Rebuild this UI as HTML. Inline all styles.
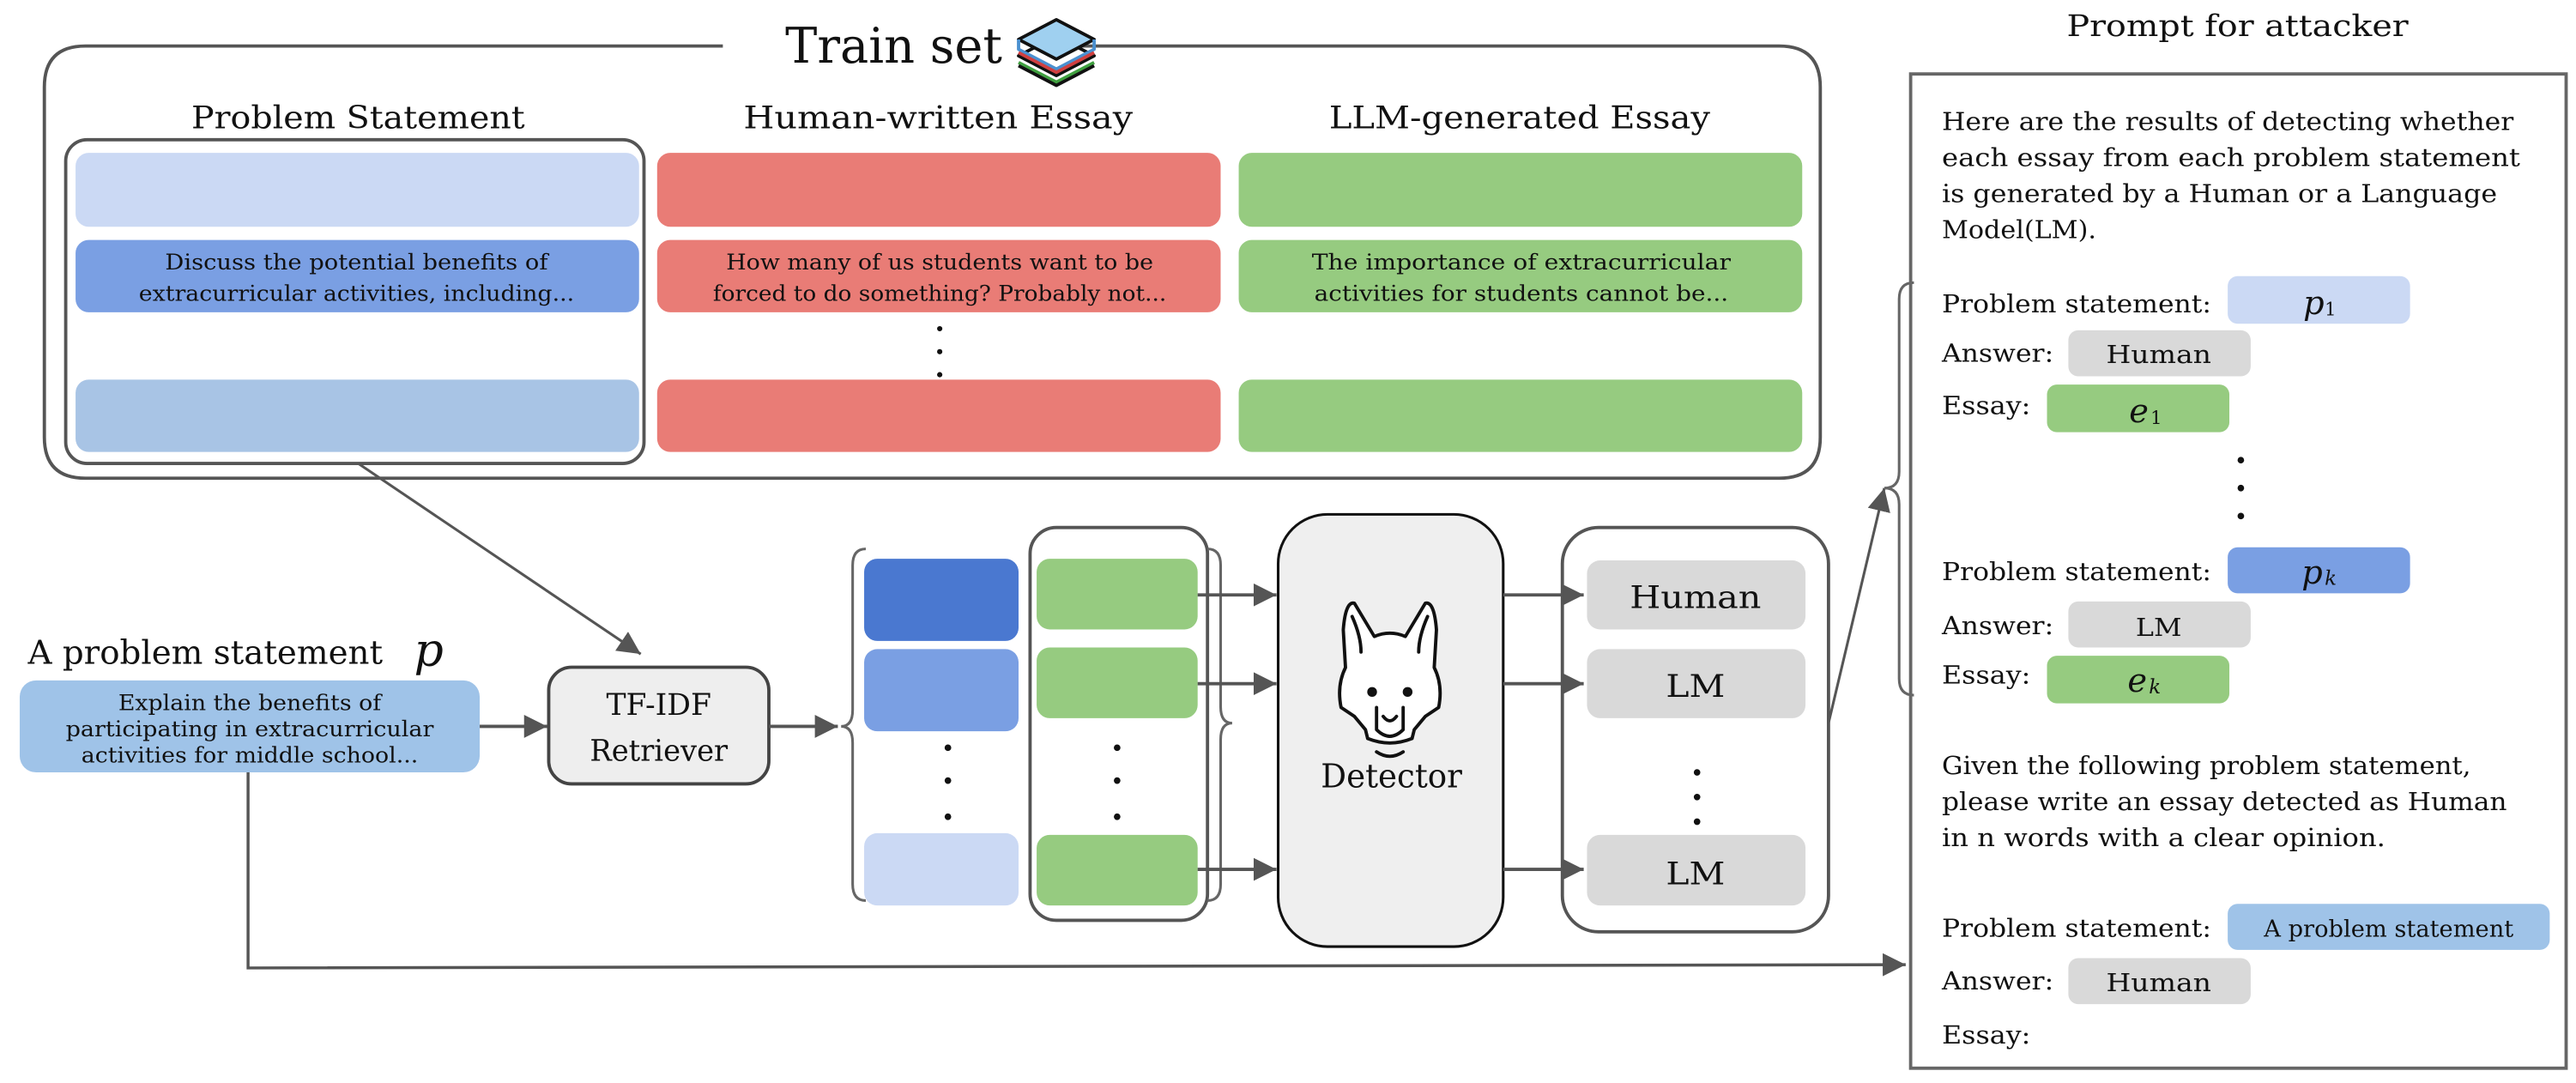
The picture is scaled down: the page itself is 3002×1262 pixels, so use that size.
<!DOCTYPE html>
<html><head><meta charset="utf-8"><style>
html,body{margin:0;padding:0;background:#fff;}
svg{display:block;}
text{font-family:"DejaVu Serif","Liberation Serif",serif;fill:#111;}
</style></head><body>
<svg width="3002" height="1262" viewBox="0 0 1568 659" preserveAspectRatio="none" xmlns="http://www.w3.org/2000/svg">
<defs>
<marker id="a" viewBox="0 0 10 10" refX="10" refY="5" markerWidth="14" markerHeight="14" orient="auto" markerUnits="userSpaceOnUse"><path d="M0,0 L10,5 L0,10 z" fill="#555"/></marker>
</defs>

<path d="M440,28 L52,28 Q27,28 27,53 L27,266 Q27,291 52,291 L1083,291 Q1108,291 1108,266 L1108,53 Q1108,28 1083,28 L655,28" fill="none" stroke="#555" stroke-width="2"/>
<text x="478" y="38" font-size="30" textLength="132" lengthAdjust="spacingAndGlyphs">Train set</text>
<g stroke="#111" stroke-width="2" stroke-linejoin="round">
<path d="M620,34 L643,22 L666,34 L643,46 z" fill="#fff"/>
<path d="M620,24 L643,12 L666,24 L643,36 z" fill="#9fd0f0"/>
<path d="M620,24 L620,30 L643,42 L666,30 L666,24" fill="none" stroke="#4a90d0"/>
<path d="M620,32 L643,44 L666,32" fill="none" stroke="#d04040"/>
<path d="M620,38 L643,50 L666,38" fill="none" stroke="#40a040"/>
<path d="M620,40 L643,52 L666,40" fill="none"/>
</g>

<text x="218" y="78" font-size="19" text-anchor="middle" textLength="203" lengthAdjust="spacingAndGlyphs">Problem Statement</text>
<text x="571" y="78" font-size="19" text-anchor="middle" textLength="237" lengthAdjust="spacingAndGlyphs">Human-written Essay</text>
<text x="925" y="78" font-size="19" text-anchor="middle" textLength="232" lengthAdjust="spacingAndGlyphs">LLM-generated Essay</text>

<rect x="40" y="85" width="352" height="197" rx="13" fill="none" stroke="#555" stroke-width="2"/>
<rect x="46" y="93" width="343" height="45" rx="8" fill="#cbd9f4"/>
<rect x="46" y="146" width="343" height="44" rx="8" fill="#7a9fe3"/>
<text x="217" y="164" font-size="13" text-anchor="middle" textLength="233" lengthAdjust="spacingAndGlyphs">Discuss the potential benefits of</text>
<text x="217" y="183" font-size="13" text-anchor="middle" textLength="265" lengthAdjust="spacingAndGlyphs">extracurricular activities, including...</text>
<rect x="46" y="231" width="343" height="44" rx="8" fill="#a8c4e5"/>

<rect x="400" y="93" width="343" height="45" rx="8" fill="#e97c76"/>
<rect x="400" y="146" width="343" height="44" rx="8" fill="#e97c76"/>
<text x="572" y="164" font-size="13" text-anchor="middle" textLength="260" lengthAdjust="spacingAndGlyphs">How many of us students want to be</text>
<text x="572" y="183" font-size="13" text-anchor="middle" textLength="276" lengthAdjust="spacingAndGlyphs">forced to do something? Probably not...</text>
<rect x="400" y="231" width="343" height="44" rx="8" fill="#e97c76"/>
<g fill="#111"><circle cx="572" cy="200" r="1.6"/><circle cx="572" cy="214" r="1.6"/><circle cx="572" cy="228" r="1.6"/></g>

<rect x="754" y="93" width="343" height="45" rx="8" fill="#96cb80"/>
<rect x="754" y="146" width="343" height="44" rx="8" fill="#96cb80"/>
<text x="926" y="164" font-size="13" text-anchor="middle" textLength="255" lengthAdjust="spacingAndGlyphs">The importance of extracurricular</text>
<text x="926" y="183" font-size="13" text-anchor="middle" textLength="252" lengthAdjust="spacingAndGlyphs">activities for students cannot be...</text>
<rect x="754" y="231" width="343" height="44" rx="8" fill="#96cb80"/>

<line x1="218" y1="282" x2="390" y2="398" stroke="#555" stroke-width="1.6" marker-end="url(#a)"/>

<text x="17" y="404" font-size="20" textLength="216" lengthAdjust="spacingAndGlyphs">A problem statement</text>
<text x="252" y="405" font-size="28" font-style="italic">p</text>
<rect x="12" y="414" width="280" height="56" rx="10" fill="#9fc3e8"/>
<text x="152" y="432" font-size="13" text-anchor="middle" textLength="160" lengthAdjust="spacingAndGlyphs">Explain the benefits of</text>
<text x="152" y="448" font-size="13" text-anchor="middle" textLength="224" lengthAdjust="spacingAndGlyphs">participating in extracurricular</text>
<text x="152" y="464" font-size="13" text-anchor="middle" textLength="205" lengthAdjust="spacingAndGlyphs">activities for middle school...</text>
<line x1="292" y1="442" x2="333" y2="442" stroke="#555" stroke-width="2" marker-end="url(#a)"/>

<rect x="334" y="406" width="134" height="71" rx="14" fill="#eeeeee" stroke="#444" stroke-width="2"/>
<text x="401" y="435" font-size="18" text-anchor="middle" textLength="64" lengthAdjust="spacingAndGlyphs">TF-IDF</text>
<text x="401" y="463" font-size="18" text-anchor="middle" textLength="84" lengthAdjust="spacingAndGlyphs">Retriever</text>
<line x1="468" y1="442" x2="510" y2="442" stroke="#555" stroke-width="2" marker-end="url(#a)"/>

<path d="M527,334 Q519,334 519,344 L519,432 Q519,442 512,442 Q519,442 519,452 L519,538 Q519,548 527,548" fill="none" stroke="#666" stroke-width="1.6"/>
<rect x="526" y="340" width="94" height="50" rx="8" fill="#4a78d0"/>
<rect x="526" y="395" width="94" height="50" rx="8" fill="#7a9fe3"/>
<rect x="526" y="507" width="94" height="44" rx="8" fill="#cbd9f4"/>
<g fill="#111"><circle cx="577" cy="455" r="2"/><circle cx="577" cy="475" r="2"/><circle cx="577" cy="497" r="2"/>
<circle cx="680" cy="455" r="2"/><circle cx="680" cy="475" r="2"/><circle cx="680" cy="497" r="2"/></g>

<rect x="627" y="321" width="108" height="239" rx="16" fill="none" stroke="#555" stroke-width="2"/>
<rect x="631" y="340" width="98" height="43" rx="8" fill="#96cb80"/>
<rect x="631" y="394" width="98" height="43" rx="8" fill="#96cb80"/>
<rect x="631" y="508" width="98" height="43" rx="8" fill="#96cb80"/>
<path d="M735,334 Q743,334 743,344 L743,430 Q743,440 750,440 Q743,440 743,450 L743,538 Q743,548 735,548" fill="none" stroke="#666" stroke-width="1.6"/>
<g stroke="#555" stroke-width="2">
<line x1="729" y1="362" x2="777" y2="362" marker-end="url(#a)"/>
<line x1="729" y1="416" x2="777" y2="416" marker-end="url(#a)"/>
<line x1="729" y1="529" x2="777" y2="529" marker-end="url(#a)"/>
</g>

<rect x="778" y="313" width="137" height="263" rx="30" fill="#efefef" stroke="#111" stroke-width="1.6"/>
<g transform="translate(846,417) scale(1.35)" fill="#fff" stroke="#111" stroke-width="1.5" stroke-linejoin="round" stroke-linecap="round">
<path d="M-21,-25 Q-20,-38 -16,-37 L-7,-22 Q0,-25 7,-22 L16,-37 Q20,-38 21,-25 L20,-8 Q24,0 22,10 L16,14 L11,20 L10,24 Q0,28 -10,24 L-11,20 L-16,14 L-22,10 Q-24,0 -20,-8 z"/>
<path d="M-17,-31 Q-13,-22 -13,-15 M17,-31 Q13,-22 13,-15" fill="none"/>
<path d="M-6,10 L-6,20 Q0,26 6,20 L6,10 M-3,14 Q0,18 3,14" fill="none"/>
<path d="M-6,30 Q0,34 6,30" fill="none"/>
<circle cx="-8" cy="3" r="2.2" fill="#111" stroke="none"/>
<circle cx="8" cy="3" r="2.2" fill="#111" stroke="none"/>
</g>
<text x="847" y="479" font-size="20" text-anchor="middle" textLength="86" lengthAdjust="spacingAndGlyphs">Detector</text>
<g stroke="#555" stroke-width="2">
<line x1="915" y1="362" x2="964" y2="362" marker-end="url(#a)"/>
<line x1="915" y1="416" x2="964" y2="416" marker-end="url(#a)"/>
<line x1="915" y1="529" x2="964" y2="529" marker-end="url(#a)"/>
</g>

<rect x="951" y="321" width="162" height="246" rx="22" fill="none" stroke="#555" stroke-width="2"/>
<rect x="966" y="341" width="133" height="42" rx="8" fill="#d9d9d9"/>
<rect x="966" y="395" width="133" height="42" rx="8" fill="#d9d9d9"/>
<rect x="966" y="508" width="133" height="43" rx="8" fill="#d9d9d9"/>
<text x="1032" y="370" font-size="19" text-anchor="middle" textLength="80" lengthAdjust="spacingAndGlyphs">Human</text>
<text x="1032" y="424" font-size="19" text-anchor="middle" textLength="36" lengthAdjust="spacingAndGlyphs">LM</text>
<text x="1032" y="538" font-size="19" text-anchor="middle" textLength="36" lengthAdjust="spacingAndGlyphs">LM</text>
<g fill="#111"><circle cx="1033" cy="470" r="2"/><circle cx="1033" cy="485" r="2"/><circle cx="1033" cy="500" r="2"/></g>

<line x1="1113" y1="440" x2="1147" y2="297" stroke="#555" stroke-width="1.6" marker-end="url(#a)"/>
<path d="M1165,172 Q1156,172 1156,182 L1156,287 Q1156,297 1147,297 Q1156,297 1156,307 L1156,413 Q1156,423 1165,423" fill="none" stroke="#666" stroke-width="1.6"/>

<polyline points="151,470 151,589 1160,587" fill="none" stroke="#555" stroke-width="1.8" marker-end="url(#a)"/>

<text x="1362" y="22" font-size="18" text-anchor="middle" textLength="208" lengthAdjust="spacingAndGlyphs">Prompt for attacker</text>
<rect x="1163" y="45" width="399" height="605" fill="none" stroke="#666" stroke-width="2"/>
<g font-size="15">
<text x="1182" y="79" textLength="348" lengthAdjust="spacingAndGlyphs">Here are the results of detecting whether</text>
<text x="1182" y="101" textLength="352" lengthAdjust="spacingAndGlyphs">each essay from each problem statement</text>
<text x="1182" y="123" textLength="338" lengthAdjust="spacingAndGlyphs">is generated by a Human or a Language</text>
<text x="1182" y="145" textLength="94" lengthAdjust="spacingAndGlyphs">Model(LM).</text>
<text x="1182" y="190" textLength="164" lengthAdjust="spacingAndGlyphs">Problem statement:</text>
<text x="1182" y="220" textLength="68" lengthAdjust="spacingAndGlyphs">Answer:</text>
<text x="1182" y="252" textLength="54" lengthAdjust="spacingAndGlyphs">Essay:</text>
<text x="1182" y="353" textLength="164" lengthAdjust="spacingAndGlyphs">Problem statement:</text>
<text x="1182" y="386" textLength="68" lengthAdjust="spacingAndGlyphs">Answer:</text>
<text x="1182" y="416" textLength="54" lengthAdjust="spacingAndGlyphs">Essay:</text>
<text x="1182" y="471" textLength="322" lengthAdjust="spacingAndGlyphs">Given the following problem statement,</text>
<text x="1182" y="493" textLength="344" lengthAdjust="spacingAndGlyphs">please write an essay detected as Human</text>
<text x="1182" y="515" textLength="270" lengthAdjust="spacingAndGlyphs">in n words with a clear opinion.</text>
<text x="1182" y="570" textLength="164" lengthAdjust="spacingAndGlyphs">Problem statement:</text>
<text x="1182" y="602" textLength="68" lengthAdjust="spacingAndGlyphs">Answer:</text>
<text x="1182" y="635" textLength="54" lengthAdjust="spacingAndGlyphs">Essay:</text>
</g>
<rect x="1356" y="168" width="111" height="29" rx="6" fill="#cbd9f4"/>
<text x="1402" y="191" font-size="20" font-style="italic">p</text><text x="1415" y="192" font-size="11">1</text>
<rect x="1259" y="201" width="111" height="28" rx="6" fill="#d9d9d9"/>
<text x="1314" y="221" font-size="15" text-anchor="middle" textLength="64" lengthAdjust="spacingAndGlyphs">Human</text>
<rect x="1246" y="234" width="111" height="29" rx="6" fill="#96cb80"/>
<text x="1296" y="257" font-size="20" font-style="italic">e</text><text x="1309" y="258" font-size="11">1</text>
<g fill="#111"><circle cx="1364" cy="280" r="2"/><circle cx="1364" cy="297" r="2"/><circle cx="1364" cy="314" r="2"/></g>
<rect x="1356" y="333" width="111" height="28" rx="6" fill="#7a9fe3"/>
<text x="1401" y="355" font-size="20" font-style="italic">p</text><text x="1415" y="356" font-size="12" font-style="italic">k</text>
<rect x="1259" y="366" width="111" height="28" rx="6" fill="#d9d9d9"/>
<text x="1314" y="387" font-size="15" text-anchor="middle" textLength="28" lengthAdjust="spacingAndGlyphs">LM</text>
<rect x="1246" y="399" width="111" height="29" rx="6" fill="#96cb80"/>
<text x="1295" y="421" font-size="20" font-style="italic">e</text><text x="1308" y="422" font-size="12" font-style="italic">k</text>
<rect x="1356" y="550" width="196" height="28" rx="6" fill="#9fc3e8"/>
<text x="1454" y="570" font-size="14" text-anchor="middle" textLength="152" lengthAdjust="spacingAndGlyphs">A problem statement</text>
<rect x="1259" y="583" width="111" height="28" rx="6" fill="#d9d9d9"/>
<text x="1314" y="603" font-size="15" text-anchor="middle" textLength="64" lengthAdjust="spacingAndGlyphs">Human</text>
</svg>
</body></html>
